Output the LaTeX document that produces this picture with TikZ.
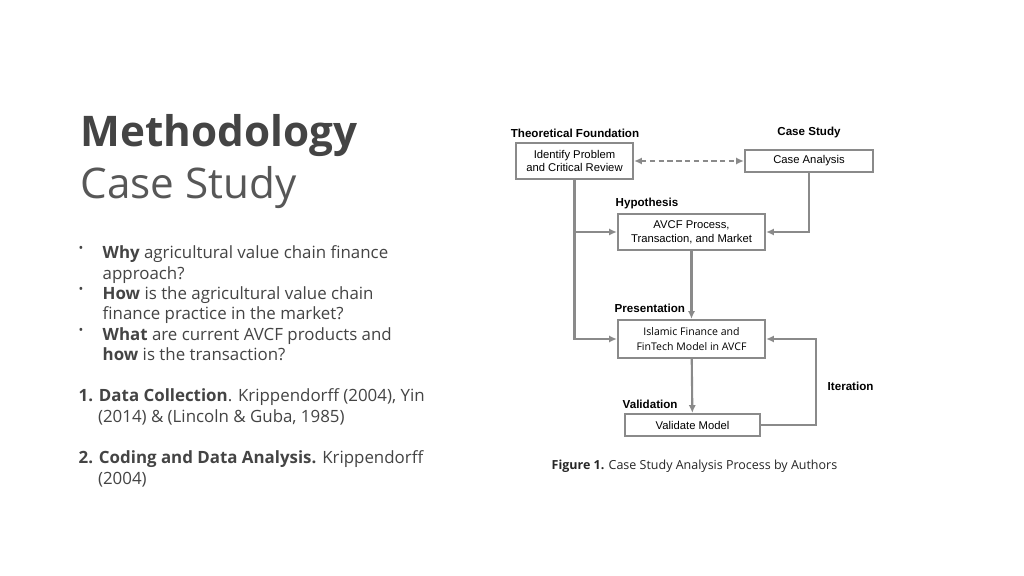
\documentclass[tikz,border=0pt]{standalone}
\usepackage{fontspec}
\setmainfont{Open Sans}
\newfontfamily\arialfont{Liberation Sans}
\usetikzlibrary{arrows.meta, calc}
\definecolor{slategray}{HTML}{444444}
\definecolor{linegray}{HTML}{8A8A8A}
\begin{document}
\begin{tikzpicture}[
    x=0.01cm, y=-0.01cm,
    box/.style={draw=linegray, line width=0.6pt, fill=white, inner sep=0pt,
        font=\arialfont\fontsize{3.2}{3.9}\selectfont, align=center},
    stage/.style={font=\arialfont\bfseries\fontsize{3.3}{4}\selectfont, inner sep=0pt},
    flow/.style={draw=linegray, line width=0.6pt, -{Latex[length=2.2pt,width=2pt]}},
    body/.style={font=\fontsize{4.8}{5.8}\selectfont, text=slategray, inner sep=0pt, align=left, anchor=north west}
    ]

    % Determines the boundries
    \path[use as bounding box, fill=white] (0,0) rectangle (1024,576);

    % Title
    \node (title) [anchor=west, inner sep=0pt, text=slategray, font=\bfseries\fontsize{12}{13}\selectfont] at (80,136) {Methodology};
    \node (subtitle) [anchor=west, inner sep=0pt, text=slategray!90, font=\fontsize{12}{13}\selectfont] at (80,188) {Case Study};

    % Bullets
    \foreach \y/\txt in {245/{\textbf{Why} agricultural value chain finance\\approach?},
                         286/{\textbf{How} is the agricultural value chain\\finance practice in the market?},
                         327/{\textbf{What} are current AVCF products and\\\textbf{how} is the transaction?}}{
        \node[body, font=\fontsize{3.6}{5.8}\selectfont] at (78,\y+1) {\textbullet};
        \node[body] at (102,\y) {\txt};
    }
    \node (collect) [body] at (78,388) {\textbf{1. Data Collection}. Krippendorff (2004), Yin\\\hspace{5.5pt}(2014) \& (Lincoln \& Guba, 1985)};
    \node (coding) [body] at (78,450) {\textbf{2. Coding and Data Analysis.} Krippendorff\\\hspace{5.5pt}(2004)};

    % Boxes
    \node (problem) [box, minimum width=1.17cm, minimum height=0.36cm] at (574.5,161) {Identify Problem\\and Critical Review};
    \node (case) [box, minimum width=1.28cm, minimum height=0.22cm] at (809,161) {Case Analysis};
    \node (avcf) [box, minimum width=1.47cm, minimum height=0.36cm] at (691.5,232) {AVCF Process,\\Transaction, and Market};
    \node (islamic) [box, minimum width=1.47cm, minimum height=0.38cm, font=\fontsize{3}{4.1}\selectfont] at (691.5,339) {Islamic Finance and\\FinTech Model in AVCF};
    \node (validate) [box, minimum width=1.35cm, minimum height=0.22cm] at (692.5,425) {Validate Model};

    % Stage labels
    \node (lblTheory) [stage] at (575,133) {Theoretical Foundation};
    \node (lblCase) [stage] at (809,133) {Case Study};
    \node (lblHyp) [stage, anchor=west] at (615,203) {Hypothesis};
    \node (lblPres) [stage, anchor=west] at (614,308) {Presentation};
    \node (lblVal) [stage, anchor=west] at (622,404) {Validation};
    \node (lblIter) [stage, anchor=west] at (827,386) {Iteration};

    % Connectors
    \draw[flow, {Latex[length=2.2pt,width=2pt]}-{Latex[length=2.2pt,width=2pt]}, dash pattern=on 1.5pt off 1pt] (problem) -- (case);
    \draw[flow] (problem.south) |- (avcf.west);
    \draw[flow] (problem.south) |- (islamic.west);
    \draw[flow] (case.south) |- (avcf.east);
    \draw[flow] (avcf) -- (islamic);
    \draw[flow] (islamic) -- (validate);
    \draw[flow] (validate.east) -- ++(55,0) |- (islamic.east);

    % Caption
    \node (caption) [anchor=west, inner sep=0pt, font=\fontsize{3.55}{4}\selectfont, text=black!85] at (551,466) {\textbf{Figure 1.} Case Study Analysis Process by Authors};
\end{tikzpicture}
\end{document}
